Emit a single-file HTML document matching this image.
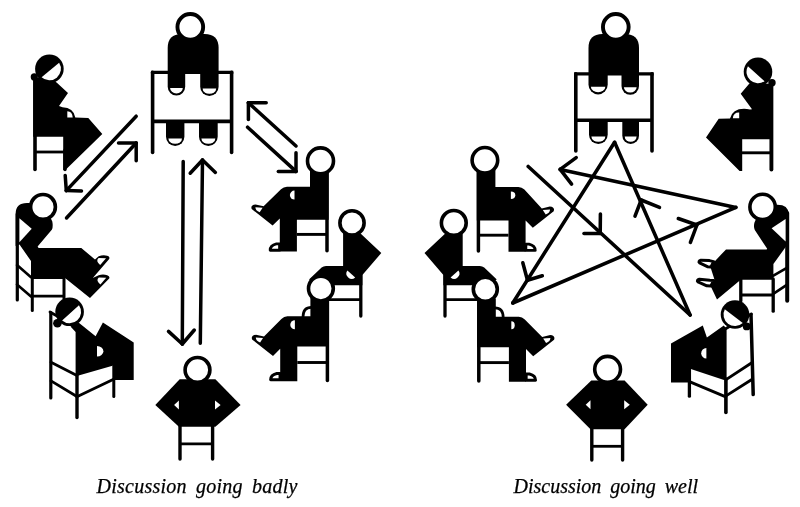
<!DOCTYPE html>
<html><head><meta charset="utf-8"><title>Discussion</title>
<style>
html,body{margin:0;padding:0;background:#fff;}
body{width:800px;height:507px;overflow:hidden;font-family:"Liberation Serif",serif;}
svg{display:block;filter:grayscale(1)}
.cap{font-family:"Liberation Serif",serif;font-style:italic;font-size:20px;fill:#000;stroke:#000;stroke-width:0.25px;word-spacing:4px}
</style></head><body>
<svg width="800" height="507" viewBox="0 0 800 507">
<rect width="800" height="507" fill="#fff"/>
<line x1="152.6" y1="72.3" x2="231.6" y2="72.3" stroke="#000" stroke-width="3.3" stroke-linecap="square"/><line x1="152.6" y1="72.3" x2="152.6" y2="152.5" stroke="#000" stroke-width="3.6" stroke-linecap="round"/><line x1="231.6" y1="72.3" x2="231.6" y2="152.5" stroke="#000" stroke-width="3.6" stroke-linecap="round"/><line x1="152.6" y1="121.4" x2="231.6" y2="121.4" stroke="#000" stroke-width="3.6" stroke-linecap="butt"/><path d="M167.7,73.3 L167.7,48.0 Q167.7,34.0 181.7,34.0 L204.6,34.0 Q218.6,34.0 218.6,48.0 L218.6,73.3 Z" fill="#000" stroke="none" stroke-width="0" stroke-linejoin="round" stroke-linecap="round" /><path d="M167.7,72.3 L167.7,86.85 A8.75,8.75 0 0 0 185.2,86.85 L185.2,72.3 Z" fill="#000" stroke="none" stroke-width="0" stroke-linejoin="round" stroke-linecap="round" /><path d="M170.1,88.0 A6.35,5.4 0 0 0 182.79999999999998,88.0 Z" fill="#fff" stroke="none" stroke-width="0" stroke-linejoin="round" stroke-linecap="round" /><path d="M200.2,72.3 L200.2,86.8 A9.200000000000003,9.200000000000003 0 0 0 218.6,86.8 L218.6,72.3 Z" fill="#000" stroke="none" stroke-width="0" stroke-linejoin="round" stroke-linecap="round" /><path d="M202.6,88.4 A6.8000000000000025,5.4 0 0 0 216.2,88.4 Z" fill="#fff" stroke="none" stroke-width="0" stroke-linejoin="round" stroke-linecap="round" /><path d="M166,121.4 L166,136.8 A9.200000000000003,9.200000000000003 0 0 0 184.4,136.8 L184.4,121.4 Z" fill="#000" stroke="none" stroke-width="0" stroke-linejoin="round" stroke-linecap="round" /><path d="M168.4,138.4 A6.8000000000000025,5.4 0 0 0 182.0,138.4 Z" fill="#fff" stroke="none" stroke-width="0" stroke-linejoin="round" stroke-linecap="round" /><path d="M199,121.4 L199,136.65 A9.349999999999994,9.349999999999994 0 0 0 217.7,136.65 L217.7,121.4 Z" fill="#000" stroke="none" stroke-width="0" stroke-linejoin="round" stroke-linecap="round" /><path d="M201.4,138.4 A6.949999999999994,5.4 0 0 0 215.29999999999998,138.4 Z" fill="#fff" stroke="none" stroke-width="0" stroke-linejoin="round" stroke-linecap="round" /><circle cx="190.3" cy="26.9" r="12.850000000000001" fill="#fff" stroke="#000" stroke-width="3.9"/><line x1="35" y1="79" x2="35" y2="169.5" stroke="#000" stroke-width="3.6" stroke-linecap="round"/><line x1="35" y1="152" x2="64" y2="152" stroke="#000" stroke-width="2.8" stroke-linecap="butt"/><line x1="65" y1="150" x2="65" y2="169.5" stroke="#000" stroke-width="3.4" stroke-linecap="round"/><path d="M33.2,77 L52,80 L56.6,82.4 L68,93 L59,106 L62.5,107.3 Q73.5,107.5 75.3,117.6 L88.3,117.9 L102.3,134 L65.4,170 L63.2,170 L63.2,136.8 L33.2,136.8 Z" fill="#000" stroke="none" stroke-width="0" stroke-linejoin="round" stroke-linecap="round" /><path d="M67.3,117.4 L67.3,111.3 Q72.3,111.3 72.7,117.4 Z" fill="#fff" stroke="none" stroke-width="0" stroke-linejoin="round" stroke-linecap="round" /><circle cx="34.3" cy="76.9" r="3.6" fill="#000"/><circle cx="49.4" cy="68.80000000000001" r="14.3" fill="#000"/><path d="M41.60,77.25 A11.5,11.5 0 0 0 59.12,62.65 Z" fill="#fff"/><line x1="17.3" y1="214" x2="17.3" y2="300" stroke="#000" stroke-width="3.2" stroke-linecap="round"/><line x1="17" y1="265" x2="31" y2="277.2" stroke="#000" stroke-width="2.6" stroke-linecap="round"/><line x1="17" y1="284.4" x2="31" y2="296.6" stroke="#000" stroke-width="2.6" stroke-linecap="round"/><line x1="32.3" y1="278" x2="32.3" y2="310.5" stroke="#000" stroke-width="3.0" stroke-linecap="round"/><line x1="31" y1="296.2" x2="64" y2="296.2" stroke="#000" stroke-width="2.8" stroke-linecap="butt"/><line x1="64" y1="278" x2="64" y2="299" stroke="#000" stroke-width="3.0" stroke-linecap="round"/><path d="M15.6,246 L15.6,214 Q15.6,202.5 28,203 L44,204 L52.3,221.5 Q53.2,226.5 52,229.4 L37.6,246.4 L38.6,247.9 L81.3,247.9 L95,259.6 L98.7,256.2 Q103,254.6 107.2,255.7 Q110.2,256.6 109.2,258.9 L92.8,277.9 L98.7,275.3 Q103,273.9 107.2,275.3 Q110.2,276.3 109.2,278.5 L90,297.9 L64.4,277.6 L64.4,279 L31,279 L31,261 L19.5,244.6 Z" fill="#000" stroke="none" stroke-width="0" stroke-linejoin="round" stroke-linecap="round" /><polygon points="19.4,218.3 31.7,228.7 19.4,242.3" fill="#fff" /><path d="M106,258.3 L100.2,264.9 Q95.2,261 98.6,258.1 Z" fill="#fff" stroke="none" stroke-width="0" stroke-linejoin="round" stroke-linecap="round" /><g transform="translate(0.2 19.5)"><path d="M106,258.3 L100.2,264.9 Q95.2,261 98.6,258.1 Z" fill="#fff" stroke="none" stroke-width="0" stroke-linejoin="round" stroke-linecap="round" /></g><circle cx="43" cy="206.9" r="12.399999999999999" fill="#fff" stroke="#000" stroke-width="3.6"/><line x1="50.8" y1="312.5" x2="50.8" y2="398" stroke="#000" stroke-width="3.2" stroke-linecap="round"/><line x1="50" y1="312" x2="76" y2="326.8" stroke="#000" stroke-width="2.8" stroke-linecap="round"/><line x1="51" y1="362.2" x2="76.9" y2="375.4" stroke="#000" stroke-width="2.8" stroke-linecap="round"/><line x1="51" y1="380.9" x2="76.9" y2="396.5" stroke="#000" stroke-width="2.8" stroke-linecap="round"/><line x1="76.9" y1="396.8" x2="113.6" y2="379.2" stroke="#000" stroke-width="2.8" stroke-linecap="round"/><line x1="77" y1="375" x2="77" y2="417.5" stroke="#000" stroke-width="3.4" stroke-linecap="round"/><line x1="113.8" y1="366" x2="113.8" y2="396.5" stroke="#000" stroke-width="3.0" stroke-linecap="round"/><path d="M75.6,332 L70.5,326.4 L78.5,322.6 L95.6,336.2 L102.9,322.6 L133.7,342.6 L133.7,380 L113.4,380 L113.4,365.4 L78.6,375.6 L75.6,375.6 Z" fill="#000" stroke="none" stroke-width="0" stroke-linejoin="round" stroke-linecap="round" /><path d="M97,346 A6.4,5.3 0 0 1 97,356.6 Z" fill="#fff" stroke="none" stroke-width="0" stroke-linejoin="round" stroke-linecap="round" /><circle cx="57.4" cy="323.2" r="4.3" fill="#000"/><circle cx="69.6" cy="311.79999999999995" r="14.3" fill="#000"/><path d="M62.11,320.53 A11.5,11.5 0 0 0 78.97,305.14 Z" fill="#fff"/><line x1="180" y1="424.8" x2="180" y2="459" stroke="#000" stroke-width="3.4" stroke-linecap="round"/><line x1="212.6" y1="424.8" x2="212.6" y2="459" stroke="#000" stroke-width="3.4" stroke-linecap="round"/><line x1="180" y1="443.9" x2="212.6" y2="443.9" stroke="#000" stroke-width="2.8" stroke-linecap="butt"/><polygon points="179.7,379.2 215.4,379.2 240.6,405 215.4,426.8 178.9,426.8 155.3,405" fill="#000" /><polygon points="174.1,405 178.9,400.4 178.9,409.4" fill="#fff" /><polygon points="220.6,405 215.0,400.4 215.0,409.4" fill="#fff" /><circle cx="197.5" cy="369.9" r="12.399999999999999" fill="#fff" stroke="#000" stroke-width="3.6"/><line x1="360.8" y1="274" x2="360.8" y2="316" stroke="#000" stroke-width="3.3" stroke-linecap="round"/><line x1="327.7" y1="299.6" x2="360.8" y2="299.6" stroke="#000" stroke-width="2.8" stroke-linecap="butt"/><path d="M343.1,233 L360,233 L381.3,253 L362.4,275 L362.4,285.2 L322,285.2 L309,279.6 L321.6,267.6 Q323.4,266 326,266 L343.1,266 Z" fill="#000" stroke="none" stroke-width="0" stroke-linejoin="round" stroke-linecap="round" /><path d="M347.4,270.6 L355.2,277.4 A5.2,5.2 0 0 1 347.4,270.6 Z" fill="#fff" stroke="none" stroke-width="0" stroke-linejoin="round" stroke-linecap="round" /><circle cx="352" cy="222.9" r="12.1" fill="#fff" stroke="#000" stroke-width="3.6"/><line x1="327" y1="172" x2="327" y2="250.8" stroke="#000" stroke-width="3.5" stroke-linecap="round"/><line x1="296.9" y1="234.4" x2="327" y2="234.4" stroke="#000" stroke-width="2.9" stroke-linecap="butt"/><path d="M310,170 L328.6,170 L328.6,219.8 L296.9,219.8 L296.9,251.6 L279.8,251.6 L279.8,218.4 L272.6,225.6 L251.7,209.0 Q250.2,205.0 255.6,204.4 L263.6,206.2 L281,189.3 Q283.6,186.7 287,186.7 L310,186.7 Z" fill="#000" stroke="none" stroke-width="0" stroke-linejoin="round" stroke-linecap="round" /><path d="M294.5,190.6 A4.6,4.5 0 0 0 294.5,199.6 Z" fill="#fff" stroke="none" stroke-width="0" stroke-linejoin="round" stroke-linecap="round" /><path d="M255.4,207.2 L262.6,207.7 L259.7,212.2 Q255.4,210.6 255.4,207.2 Z" fill="#fff" stroke="none" stroke-width="0" stroke-linejoin="round" stroke-linecap="round" /><path d="M279.6,243.9 L276.4,243.9 Q270.2,245.4 270.2,250.2 L279.6,250.2 Z" fill="#fff" stroke="#000" stroke-width="2.9" stroke-linejoin="round" stroke-linecap="round" /><circle cx="320.5" cy="160.9" r="13.0" fill="#fff" stroke="#000" stroke-width="3.6"/><g transform="translate(0.4 0)"><line x1="327" y1="299.7" x2="327" y2="380.4" stroke="#000" stroke-width="3.5" stroke-linecap="round"/><line x1="296.9" y1="362.5" x2="327" y2="362.5" stroke="#000" stroke-width="2.9" stroke-linecap="butt"/><path d="M310,297.7 L328.6,297.7 L328.6,346.4 L296.9,346.4 L296.9,381.2 L279.8,381.2 L279.8,348.8 L272.6,356.0 L251.7,339.40000000000003 Q250.2,335.40000000000003 255.6,334.8 L263.6,336.59999999999997 L281,318.9 Q283.6,316.29999999999995 287,316.29999999999995 L310,316.29999999999995 Z" fill="#000" stroke="none" stroke-width="0" stroke-linejoin="round" stroke-linecap="round" /><path d="M294.5,320.2 A4.6,4.5 0 0 0 294.5,329.2 Z" fill="#fff" stroke="none" stroke-width="0" stroke-linejoin="round" stroke-linecap="round" /><path d="M255.4,337.59999999999997 L262.6,338.09999999999997 L259.7,342.59999999999997 Q255.4,341.0 255.4,337.59999999999997 Z" fill="#fff" stroke="none" stroke-width="0" stroke-linejoin="round" stroke-linecap="round" /><path d="M279.6,373.5 L276.4,373.5 Q270.2,375.0 270.2,379.79999999999995 L279.6,379.79999999999995 Z" fill="#fff" stroke="#000" stroke-width="2.9" stroke-linejoin="round" stroke-linecap="round" /><path d="M302.6,317.1 Q302.6,307.4 311,307.4" fill="none" stroke="#000" stroke-width="2.7" stroke-linejoin="round" stroke-linecap="round" /><circle cx="320.5" cy="288.59999999999997" r="12.399999999999999" fill="#fff" stroke="#000" stroke-width="3.6"/></g><line x1="136.2" y1="116.2" x2="66.3" y2="190.6" stroke="#000" stroke-width="3.5" stroke-linecap="round"/><line x1="66.3" y1="190.6" x2="65.2" y2="175.4" stroke="#000" stroke-width="3.5" stroke-linecap="round"/><line x1="66.3" y1="190.6" x2="81.5" y2="191" stroke="#000" stroke-width="3.5" stroke-linecap="round"/><line x1="66.5" y1="218" x2="136.2" y2="143" stroke="#000" stroke-width="3.5" stroke-linecap="round"/><line x1="136.2" y1="143" x2="118.5" y2="143" stroke="#000" stroke-width="3.5" stroke-linecap="round"/><line x1="136.2" y1="143" x2="136.2" y2="160.8" stroke="#000" stroke-width="3.5" stroke-linecap="round"/><line x1="183.2" y1="161.5" x2="182.3" y2="344" stroke="#000" stroke-width="3.5" stroke-linecap="round"/><line x1="182.3" y1="344" x2="168.5" y2="331.4" stroke="#000" stroke-width="3.5" stroke-linecap="round"/><line x1="182.3" y1="344" x2="194.3" y2="330" stroke="#000" stroke-width="3.5" stroke-linecap="round"/><line x1="200.3" y1="343.3" x2="202.5" y2="160" stroke="#000" stroke-width="3.5" stroke-linecap="round"/><line x1="202.5" y1="160" x2="190.2" y2="173.2" stroke="#000" stroke-width="3.5" stroke-linecap="round"/><line x1="202.5" y1="160" x2="215.4" y2="172.4" stroke="#000" stroke-width="3.5" stroke-linecap="round"/><line x1="296" y1="146" x2="248.4" y2="102.8" stroke="#000" stroke-width="3.5" stroke-linecap="round"/><line x1="248.4" y1="102.8" x2="266.2" y2="102.8" stroke="#000" stroke-width="3.5" stroke-linecap="round"/><line x1="248.4" y1="102.8" x2="248.4" y2="119.6" stroke="#000" stroke-width="3.5" stroke-linecap="round"/><line x1="247.6" y1="127.2" x2="296" y2="171.4" stroke="#000" stroke-width="3.5" stroke-linecap="round"/><line x1="296" y1="171.4" x2="278.3" y2="171.4" stroke="#000" stroke-width="3.5" stroke-linecap="round"/><line x1="296" y1="171.4" x2="296" y2="152.8" stroke="#000" stroke-width="3.5" stroke-linecap="round"/>
<line x1="575.8" y1="73.8" x2="652" y2="73.8" stroke="#000" stroke-width="3.3" stroke-linecap="square"/><line x1="575.8" y1="73.8" x2="575.8" y2="151" stroke="#000" stroke-width="3.6" stroke-linecap="round"/><line x1="652" y1="73.8" x2="652" y2="151" stroke="#000" stroke-width="3.6" stroke-linecap="round"/><line x1="575.8" y1="120.2" x2="652" y2="120.2" stroke="#000" stroke-width="3.6" stroke-linecap="butt"/><path d="M588.5,74.8 L588.5,48.0 Q588.5,34.0 602.5,34.0 L625,34.0 Q639,34.0 639,48.0 L639,74.8 Z" fill="#000" stroke="none" stroke-width="0" stroke-linejoin="round" stroke-linecap="round" /><path d="M588.5,73.8 L588.5,84.79999999999998 A9.600000000000023,9.600000000000023 0 0 0 607.7,84.79999999999998 L607.7,73.8 Z" fill="#000" stroke="none" stroke-width="0" stroke-linejoin="round" stroke-linecap="round" /><path d="M590.9,86.80000000000001 A7.200000000000022,5.4 0 0 0 605.3000000000001,86.80000000000001 Z" fill="#fff" stroke="none" stroke-width="0" stroke-linejoin="round" stroke-linecap="round" /><path d="M621.5,73.8 L621.5,86.05000000000001 A8.75,8.75 0 0 0 639,86.05000000000001 L639,73.8 Z" fill="#000" stroke="none" stroke-width="0" stroke-linejoin="round" stroke-linecap="round" /><path d="M623.9,87.20000000000002 A6.35,5.4 0 0 0 636.6,87.20000000000002 Z" fill="#fff" stroke="none" stroke-width="0" stroke-linejoin="round" stroke-linecap="round" /><path d="M589,120.2 L589,134.64999999999998 A9.350000000000023,9.350000000000023 0 0 0 607.7,134.64999999999998 L607.7,120.2 Z" fill="#000" stroke="none" stroke-width="0" stroke-linejoin="round" stroke-linecap="round" /><path d="M591.4,136.4 A6.950000000000022,5.4 0 0 0 605.3000000000001,136.4 Z" fill="#fff" stroke="none" stroke-width="0" stroke-linejoin="round" stroke-linecap="round" /><path d="M622.3,120.2 L622.3,135.64999999999998 A8.350000000000023,8.350000000000023 0 0 0 639,135.64999999999998 L639,120.2 Z" fill="#000" stroke="none" stroke-width="0" stroke-linejoin="round" stroke-linecap="round" /><path d="M624.6999999999999,136.4 A5.950000000000022,5.4 0 0 0 636.6,136.4 Z" fill="#fff" stroke="none" stroke-width="0" stroke-linejoin="round" stroke-linecap="round" /><circle cx="615.8" cy="26.9" r="12.850000000000001" fill="#fff" stroke="#000" stroke-width="3.9"/><line x1="771.4" y1="86" x2="771.4" y2="169.6" stroke="#000" stroke-width="3.9" stroke-linecap="round"/><line x1="741.6" y1="152.8" x2="771" y2="152.8" stroke="#000" stroke-width="2.9" stroke-linecap="butt"/><path d="M772.4,84 L756,83 L749.6,83.2 L740.7,93.7 L752,109.2 L750,109.4 Q733,106.6 730.0,118.6 L718.7,118.7 L706,137.4 L739.6,170.9 L742.2,170.9 L742.2,139.2 L772.4,139.2 Z" fill="#000" stroke="none" stroke-width="0" stroke-linejoin="round" stroke-linecap="round" /><path d="M739.2,118.3 L739.2,112.4 Q733.4,112.2 732.8,118.3 Z" fill="#fff" stroke="none" stroke-width="0" stroke-linejoin="round" stroke-linecap="round" /><circle cx="772" cy="82.8" r="3.7" fill="#000"/><circle cx="758.0" cy="71.80000000000001" r="14.3" fill="#000"/><path d="M747.93,66.25 A11.5,11.5 0 0 0 764.60,81.22 Z" fill="#fff"/><line x1="787.2" y1="213" x2="787.2" y2="300.8" stroke="#000" stroke-width="4.0" stroke-linecap="round"/><line x1="773.4" y1="275.6" x2="786.4" y2="268.2" stroke="#000" stroke-width="2.7" stroke-linecap="round"/><line x1="774" y1="293.4" x2="786.4" y2="285.2" stroke="#000" stroke-width="2.7" stroke-linecap="round"/><line x1="773.2" y1="279" x2="773.2" y2="311.2" stroke="#000" stroke-width="3.3" stroke-linecap="round"/><line x1="740.6" y1="295" x2="773.2" y2="295" stroke="#000" stroke-width="2.9" stroke-linecap="butt"/><line x1="740.8" y1="279" x2="740.8" y2="301" stroke="#000" stroke-width="3.3" stroke-linecap="round"/><path d="M788.6,246.4 L788.6,214 Q788.4,204.6 777,204.8 L762,205 L754.4,222.8 Q753.4,227.4 754.8,230 L767.2,248.8 L766.6,249.4 L726,249.4 L714.6,261.4 L710.6,267.4 L714.6,280 L710.6,286 L717,299.4 L740.7,279.8 L773.4,279.8 L773.4,264 L786.2,246.3 Z" fill="#000" stroke="none" stroke-width="0" stroke-linejoin="round" stroke-linecap="round" /><polygon points="785.6,219 771.6,228.2 785.6,241.6" fill="#fff" /><path d="M713.6,261.6 L709.5,260.6 L701,260.2 Q697.8,261.3 699.6,262.8 L707.4,266.7 L711,267 Z" fill="#fff" stroke="#000" stroke-width="3.0" stroke-linejoin="round" stroke-linecap="round" /><path d="M713.6,280.4 L709.8,280.2 L699.4,279.2 Q696.2,280.2 698,281.8 L706.8,285.8 L711,286 Z" fill="#fff" stroke="#000" stroke-width="3.0" stroke-linejoin="round" stroke-linecap="round" /><circle cx="762.6" cy="206.9" r="12.7" fill="#fff" stroke="#000" stroke-width="3.6"/><line x1="751.0" y1="314.5" x2="753.2" y2="394.6" stroke="#000" stroke-width="3.5" stroke-linecap="round"/><line x1="751.4" y1="314" x2="726" y2="328.6" stroke="#000" stroke-width="2.9" stroke-linecap="round"/><line x1="690.6" y1="382.2" x2="725.8" y2="396.9" stroke="#000" stroke-width="2.9" stroke-linecap="round"/><line x1="726.4" y1="379.4" x2="751.8" y2="362.7" stroke="#000" stroke-width="2.9" stroke-linecap="round"/><line x1="726.4" y1="395.6" x2="752.6" y2="379" stroke="#000" stroke-width="2.9" stroke-linecap="round"/><line x1="725.9" y1="379" x2="725.9" y2="412.4" stroke="#000" stroke-width="3.6" stroke-linecap="round"/><line x1="689.4" y1="370" x2="689.4" y2="396.2" stroke="#000" stroke-width="3.3" stroke-linecap="round"/><path d="M726.6,329 L723.8,325.6 L706.9,337.4 L702.8,325.5 L671,343.4 L671,382.4 L690.8,382.4 L690.8,369 L724,380 L726.6,380 Z" fill="#000" stroke="none" stroke-width="0" stroke-linejoin="round" stroke-linecap="round" /><path d="M706.4,348 A5.2,5.2 0 0 0 706.4,358.4 Z" fill="#fff" stroke="none" stroke-width="0" stroke-linejoin="round" stroke-linecap="round" /><circle cx="746.7" cy="326.4" r="3.9" fill="#000"/><circle cx="735.0" cy="314.5" r="14.3" fill="#000"/><path d="M724.80,309.19 A11.5,11.5 0 0 0 742.77,322.98 Z" fill="#fff"/><line x1="591.8" y1="427.3" x2="591.8" y2="460" stroke="#000" stroke-width="3.4" stroke-linecap="round"/><line x1="622.6" y1="427.3" x2="622.6" y2="460" stroke="#000" stroke-width="3.4" stroke-linecap="round"/><line x1="591.8" y1="446.3" x2="622.6" y2="446.3" stroke="#000" stroke-width="2.8" stroke-linecap="butt"/><polygon points="591.3,380.6 624.6,380.6 647.7,404.8 624.6,429.3 590.5,429.3 566.1,404.8" fill="#000" /><polygon points="585.7,404.8 590.5,400.2 590.5,409.2" fill="#fff" /><polygon points="629.8000000000001,404.8 624.2,400.2 624.2,409.2" fill="#fff" /><circle cx="607.6" cy="369.29999999999995" r="12.899999999999999" fill="#fff" stroke="#000" stroke-width="3.6"/><g transform="matrix(-1 0 0 1 805.8 0)"><line x1="360.8" y1="274" x2="360.8" y2="316" stroke="#000" stroke-width="3.3" stroke-linecap="round"/><line x1="327.7" y1="299.6" x2="360.8" y2="299.6" stroke="#000" stroke-width="2.8" stroke-linecap="butt"/><path d="M343.1,233 L360,233 L381.3,253 L362.4,275 L362.4,285.2 L322,285.2 L309,279.6 L321.6,267.6 Q323.4,266 326,266 L343.1,266 Z" fill="#000" stroke="none" stroke-width="0" stroke-linejoin="round" stroke-linecap="round" /><path d="M347.4,270.6 L355.2,277.4 A5.2,5.2 0 0 1 347.4,270.6 Z" fill="#fff" stroke="none" stroke-width="0" stroke-linejoin="round" stroke-linecap="round" /><circle cx="352" cy="222.9" r="12.399999999999999" fill="#fff" stroke="#000" stroke-width="3.6"/></g><g transform="matrix(-1 0 0 1 805.4 0)"><line x1="327" y1="171.4" x2="327" y2="251.0" stroke="#000" stroke-width="3.5" stroke-linecap="round"/><line x1="296.9" y1="235.20000000000002" x2="327" y2="235.20000000000002" stroke="#000" stroke-width="2.9" stroke-linecap="butt"/><path d="M310,169.4 L328.6,169.4 L328.6,220.60000000000002 L296.9,220.60000000000002 L296.9,251.79999999999998 L279.8,251.79999999999998 L279.8,220.6 L272.6,227.79999999999998 L251.7,211.2 Q250.2,207.2 255.6,206.6 L263.6,208.39999999999998 L281,189.5 Q283.6,186.89999999999998 287,186.89999999999998 L310,186.89999999999998 Z" fill="#000" stroke="none" stroke-width="0" stroke-linejoin="round" stroke-linecap="round" /><path d="M294.5,191.6 A4.4,3.7 0 0 0 294.5,198.99999999999997 Z" fill="#fff" stroke="none" stroke-width="0" stroke-linejoin="round" stroke-linecap="round" /><path d="M255.4,209.39999999999998 L262.6,209.89999999999998 L259.7,214.39999999999998 Q255.4,212.79999999999998 255.4,209.39999999999998 Z" fill="#fff" stroke="none" stroke-width="0" stroke-linejoin="round" stroke-linecap="round" /><path d="M279.6,244.1 L276.4,244.1 Q270.2,245.6 270.2,250.39999999999998 L279.6,250.39999999999998 Z" fill="#fff" stroke="#000" stroke-width="2.9" stroke-linejoin="round" stroke-linecap="round" /><circle cx="320.5" cy="160.3" r="12.799999999999999" fill="#fff" stroke="#000" stroke-width="3.6"/></g><g transform="matrix(-1 0 0 1 805.8 0)"><line x1="327" y1="300.4" x2="327" y2="380.9" stroke="#000" stroke-width="3.5" stroke-linecap="round"/><line x1="296.9" y1="362.6" x2="327" y2="362.6" stroke="#000" stroke-width="2.9" stroke-linecap="butt"/><path d="M310,298.4 L328.6,298.4 L328.6,347.20000000000005 L296.9,347.20000000000005 L296.9,381.7 L279.8,381.7 L279.8,349.1 L272.6,356.3 L251.7,339.70000000000005 Q250.2,335.70000000000005 255.6,335.1 L263.6,336.9 L281,319.4 Q283.6,316.79999999999995 287,316.79999999999995 L310,316.79999999999995 Z" fill="#000" stroke="none" stroke-width="0" stroke-linejoin="round" stroke-linecap="round" /><path d="M294.5,321.2 A3.4,4.0 0 0 0 294.5,329.2 Z" fill="#fff" stroke="none" stroke-width="0" stroke-linejoin="round" stroke-linecap="round" /><path d="M255.4,337.9 L262.6,338.4 L259.7,342.9 Q255.4,341.3 255.4,337.9 Z" fill="#fff" stroke="none" stroke-width="0" stroke-linejoin="round" stroke-linecap="round" /><path d="M279.6,374.0 L276.4,374.0 Q270.2,375.5 270.2,380.29999999999995 L279.6,380.29999999999995 Z" fill="#fff" stroke="#000" stroke-width="2.9" stroke-linejoin="round" stroke-linecap="round" /><path d="M302.6,317.6 Q302.6,307.9 311,307.9" fill="none" stroke="#000" stroke-width="2.7" stroke-linejoin="round" stroke-linecap="round" /><circle cx="320.5" cy="289.29999999999995" r="12.0" fill="#fff" stroke="#000" stroke-width="3.6"/></g><line x1="614.6" y1="142.3" x2="512.8" y2="303" stroke="#000" stroke-width="3.55" stroke-linecap="round"/><line x1="512.8" y1="303" x2="735.9" y2="207.4" stroke="#000" stroke-width="3.55" stroke-linecap="round"/><line x1="735.9" y1="207.4" x2="560.2" y2="169.4" stroke="#000" stroke-width="3.55" stroke-linecap="round"/><line x1="528.2" y1="166.5" x2="690.1" y2="315" stroke="#000" stroke-width="3.55" stroke-linecap="round"/><line x1="690.1" y1="315" x2="614.6" y2="142.3" stroke="#000" stroke-width="3.55" stroke-linecap="round"/><line x1="560.2" y1="169.4" x2="576.2" y2="157.6" stroke="#000" stroke-width="3.55" stroke-linecap="round"/><line x1="560.2" y1="169.4" x2="571.6" y2="184.2" stroke="#000" stroke-width="3.55" stroke-linecap="round"/><line x1="527.5" y1="280.2" x2="522.8" y2="262.8" stroke="#000" stroke-width="3.55" stroke-linecap="round"/><line x1="527.5" y1="280.2" x2="542.3" y2="275.8" stroke="#000" stroke-width="3.55" stroke-linecap="round"/><line x1="600.2" y1="233.5" x2="584" y2="233.5" stroke="#000" stroke-width="3.55" stroke-linecap="round"/><line x1="600.2" y1="233.5" x2="600.4" y2="214" stroke="#000" stroke-width="3.55" stroke-linecap="round"/><line x1="641.2" y1="200" x2="635" y2="216.2" stroke="#000" stroke-width="3.55" stroke-linecap="round"/><line x1="641.2" y1="200" x2="659.5" y2="207.4" stroke="#000" stroke-width="3.55" stroke-linecap="round"/><line x1="696.9" y1="225" x2="678.3" y2="218.5" stroke="#000" stroke-width="3.55" stroke-linecap="round"/><line x1="696.9" y1="225" x2="690.4" y2="242.3" stroke="#000" stroke-width="3.55" stroke-linecap="round"/>
<text x="96.5" y="493.1" class="cap" textLength="201" lengthAdjust="spacing">Discussion going badly</text><text x="513.5" y="493.1" class="cap" textLength="184.5" lengthAdjust="spacing">Discussion going well</text>
</svg>
</body></html>
